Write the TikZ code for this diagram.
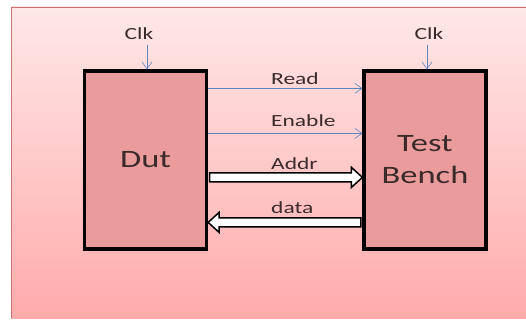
\documentclass[tikz,border=0pt]{standalone}
\usepackage{fontspec}
\usepackage{graphicx}
\setmainfont{Carlito}
\usetikzlibrary{arrows.meta,calc}
\definecolor{bgtop}{HTML}{FFE8E8}
\definecolor{bgbot}{HTML}{FFABAB}
\definecolor{bgedge}{HTML}{C87070}
\definecolor{boxfill}{HTML}{EA9C9C}
\definecolor{sigblue}{HTML}{5B86C0}
\definecolor{txt}{HTML}{3A2A2A}
\newcommand\wide[1]{\scalebox{1.38}[1]{#1}}
\tikzset{
  block/.style={draw=black,line width=3.2pt,fill=boxfill,minimum width=122pt,minimum height=178pt,inner sep=0pt,font=\fontsize{25}{32}\selectfont,text=txt,align=center},
  sig/.style={draw=sigblue,line width=0.6pt,-{Straight Barb[length=7pt,width=10pt,line width=0.6pt]}},
  lbl/.style={font=\fontsize{17}{20}\selectfont,text=txt,inner sep=0pt},
  bus/.style={draw=black,line width=1.5pt,fill=white,line join=miter}
}
\begin{document}
\begin{tikzpicture}[x=1pt,y=-1pt]
\useasboundingbox (0,0) rectangle (526,320);
\shade[top color=bgtop,bottom color=bgbot] (11,7) rectangle (526,318);
\draw[bgedge,line width=0.8pt] (11,318) -- (11,7) -- (526,7);
\node[block] (dut) at (145.5,160) {\wide{Dut}};
\node[block] (tb) at (425,160) {\wide{Test}\\\wide{Bench}};
\node[lbl,anchor=base] (clk1) at (139,40) {\wide{Clk}};
\node[lbl,anchor=base] (clk2) at (429,40) {\wide{Clk}};
\coordinate (c1) at (147,45);
\coordinate (c2) at (427,45);
\draw[sig] (c1) -- (c1 |- dut.north);
\draw[sig] (c2) -- (c2 |- tb.north);
% Read / Enable
\coordinate (r0) at ($(dut.north east)+(0,19)$);
\coordinate (e0) at ($(dut.north east)+(0,64)$);
\draw[sig] (r0) -- (r0 -| tb.west);
\draw[sig] (e0) -- (e0 -| tb.west);
\node[lbl,anchor=base west] (readl) at (271,85) {\wide{Read}};
\node[lbl,anchor=base west] (enl) at (271,127) {\wide{Enable}};
% Addr bus
\coordinate (a0) at ($(dut.north east)+(1.5,108)$);
\coordinate (a1) at (a0 -| tb.west);
\draw[bus] (a0) ++(0,-4.5) -- ($(a1)+(-11,-4.5)$) -- ($(a1)+(-11,-10)$) -- (a1) -- ($(a1)+(-11,10)$) -- ($(a1)+(-11,4.5)$) -- ($(a0)+(0,4.5)$) -- cycle;
\node[lbl,anchor=base west] (addrl) at (271,170) {\wide{Addr}};
% data bus
\coordinate (d1) at ($(tb.north west)+(-1.5,153)$);
\coordinate (d0) at (d1 -| dut.east);
\draw[bus] (d1) ++(0,-4.5) -- ($(d0)+(11,-4.5)$) -- ($(d0)+(11,-10)$) -- (d0) -- ($(d0)+(11,10)$) -- ($(d0)+(11,4.5)$) -- ($(d1)+(0,4.5)$) -- cycle;
\node[lbl,anchor=base west] (datal) at (271,213) {\wide{data}};
\end{tikzpicture}
\end{document}
